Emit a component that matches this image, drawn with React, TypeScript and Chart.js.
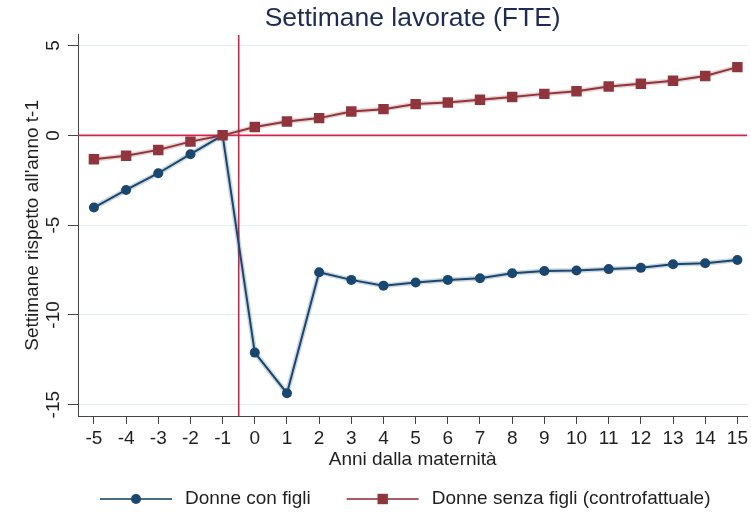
import React, { useEffect, useRef } from "react";
import { Chart, registerables } from "chart.js";

Chart.register(...registerables);

// ---- Data ----
const yearsFromBirth = [-5, -4, -3, -2, -1, 0, 1, 2, 3, 4, 5, 6, 7, 8, 9, 10, 11, 12, 13, 14, 15];
const womenWithChildren = [-4.02, -3.04, -2.11, -1.05, 0, -12.1, -14.36, -7.62, -8.05, -8.37, -8.2, -8.05, -7.96, -7.68, -7.55, -7.53, -7.45, -7.38, -7.18, -7.12, -6.94];
const womenWithoutChildren = [-1.33, -1.14, -0.81, -0.35, 0, 0.46, 0.77, 0.96, 1.33, 1.46, 1.74, 1.83, 1.98, 2.13, 2.31, 2.46, 2.72, 2.87, 3.04, 3.31, 3.8];
const seriesLabels = ["Donne con figli", "Donne senza figli (controfattuale)"];
const xTickValues = [-5, -4, -3, -2, -1, 0, 1, 2, 3, 4, 5, 6, 7, 8, 9, 10, 11, 12, 13, 14, 15];
const yTickValues = [-15, -10, -5, 0, 5];
const xRange = [-5.495, 15.31];
const yRange = [-15.63, 5.6];
const eventLineX = [-0.5];
const baselineY = [0];

const titleText = "Settimane lavorate (FTE)";
const xTitle = "Anni dalla maternità";
const yTitle = "Settimane rispetto all'anno t-1";

const FONT = '"Liberation Sans", Arial, Helvetica, sans-serif';
const BLUE = "#1a476f";
const RED = "#90353b";
const REF = "#d2234b";
const AXIS = "#444444";
const TEXT = "#1f1f1f";

const legendPlugin = {
  id: "stataLegend",
  afterDraw(chart: any) {
    const ctx = chart.ctx as CanvasRenderingContext2D;
    const y = 499;
    const lineLen = 72;
    const gap = 13;
    const itemGap = 36;
    ctx.save();
    ctx.font = `19px ${FONT}`;
    ctx.textBaseline = "middle";
    ctx.textAlign = "left";
    let x = 100;
    const styles = [
      { color: BLUE, line: "rgba(26,71,111,0.8)", shape: "circle" },
      { color: RED, line: "rgba(144,53,59,0.8)", shape: "rect" },
    ];
    seriesLabels.forEach((label, i) => {
      const s = styles[i];
      ctx.strokeStyle = s.line;
      ctx.lineWidth = 2;
      ctx.beginPath();
      ctx.moveTo(x, y);
      ctx.lineTo(x + lineLen, y);
      ctx.stroke();
      ctx.fillStyle = s.color;
      const cx = x + lineLen / 2;
      if (s.shape === "circle") {
        ctx.beginPath();
        ctx.arc(cx, y, 5, 0, Math.PI * 2);
        ctx.fill();
      } else {
        ctx.fillRect(cx - 5.2, y - 5.2, 10.4, 10.4);
      }
      ctx.fillStyle = TEXT;
      const tx = x + lineLen + gap;
      ctx.fillText(label, tx, y);
      x = tx + ctx.measureText(label).width + itemGap;
    });
    ctx.restore();
  },
};

export default function App() {
  const ref = useRef<HTMLCanvasElement>(null);

  useEffect(() => {
    document.body.style.margin = "0";
    const canvas = ref.current!;
    const chart = new Chart(canvas, {
      type: "line",
      data: {
        datasets: [
          {
            label: seriesLabels[1],
            data: yearsFromBirth.map((x, i) => ({ x, y: womenWithoutChildren[i] })),
            borderColor: RED,
            backgroundColor: RED,
            borderWidth: 2,
            pointStyle: "rect",
            pointRadius: 7.4,
            pointBorderWidth: 0,
            pointBackgroundColor: RED,
            order: 1,
          },
          {
            label: seriesLabels[0],
            data: yearsFromBirth.map((x, i) => ({ x, y: womenWithChildren[i] })),
            borderColor: BLUE,
            backgroundColor: BLUE,
            borderWidth: 2,
            pointStyle: "circle",
            pointRadius: 5,
            pointBorderWidth: 0,
            pointBackgroundColor: BLUE,
            order: 2,
          },
          {
            label: "halo-red",
            data: yearsFromBirth.map((x, i) => ({ x, y: womenWithoutChildren[i] })),
            borderColor: "rgba(144,53,59,0.22)",
            borderWidth: 5,
            pointRadius: 0,
            order: 3,
          },
          {
            label: "halo-blue",
            data: yearsFromBirth.map((x, i) => ({ x, y: womenWithChildren[i] })),
            borderColor: "rgba(26,71,111,0.22)",
            borderWidth: 5,
            pointRadius: 0,
            order: 4,
          },
          {
            label: "event",
            data: [
              { x: eventLineX[0], y: yRange[0] },
              { x: eventLineX[0], y: yRange[1] },
            ],
            borderColor: REF,
            borderWidth: 1.6,
            pointRadius: 0,
            order: 10,
          },
          {
            label: "baseline",
            data: [
              { x: xRange[0], y: baselineY[0] },
              { x: xRange[1], y: baselineY[0] },
            ],
            borderColor: REF,
            borderWidth: 1.6,
            pointRadius: 0,
            order: 10,
          },
        ],
      },
      options: {
        responsive: false,
        devicePixelRatio: 1,
        animation: false,
        layout: { padding: { left: 0, right: 0, top: 0, bottom: 37 }, autoPadding: false },
        plugins: {
          legend: { display: false },
          tooltip: { enabled: false },
          title: {
            display: true,
            text: titleText,
            fullSize: false,
            color: "#1e2c53",
            font: { family: FONT, size: 26.5, weight: "normal" },
            padding: { top: 3, bottom: 0 },
          },
        },
        scales: {
          x: {
            type: "linear",
            min: xRange[0],
            max: xRange[1],
            afterBuildTicks: (s: any) => {
              s.ticks = xTickValues.map((v) => ({ value: v }));
            },
            afterFit: (s: any) => {
              s.height = 59;
            },
            grid: {
              drawOnChartArea: false,
              drawTicks: true,
              tickLength: 8,
              tickColor: AXIS,
            },
            border: { display: true, color: AXIS, width: 1 },
            ticks: {
              autoSkip: false,
              maxRotation: 0,
              minRotation: 0,
              padding: 3,
              color: TEXT,
              font: { family: FONT, size: 19 },
            },
            title: {
              display: true,
              text: xTitle,
              color: TEXT,
              font: { family: FONT, size: 19 },
              padding: { top: 0, bottom: 3.6 },
            },
          },
          y: {
            type: "linear",
            min: yRange[0],
            max: yRange[1],
            afterBuildTicks: (s: any) => {
              s.ticks = yTickValues.map((v) => ({ value: v }));
            },
            afterFit: (s: any) => {
              s.width = 78;
            },
            grid: {
              color: "#e3edef",
              lineWidth: 1,
              drawTicks: true,
              tickLength: 10,
              tickColor: AXIS,
            },
            border: { display: true, color: AXIS, width: 1 },
            ticks: {
              minRotation: 90,
              maxRotation: 90,
              crossAlign: "center",
              padding: 1,
              color: TEXT,
              font: { family: FONT, size: 19 },
            },
            title: {
              display: true,
              text: yTitle,
              color: TEXT,
              font: { family: FONT, size: 19 },
              padding: { top: 21, bottom: 0 },
            },
          },
        },
      } as any,
      plugins: [legendPlugin],
    });
    return () => chart.destroy();
  }, []);

  return (
    <div style={{ width: 751, height: 512 }}>
      <canvas ref={ref} width={751} height={512} style={{ display: "block", width: 751, height: 512 }} />
    </div>
  );
}
